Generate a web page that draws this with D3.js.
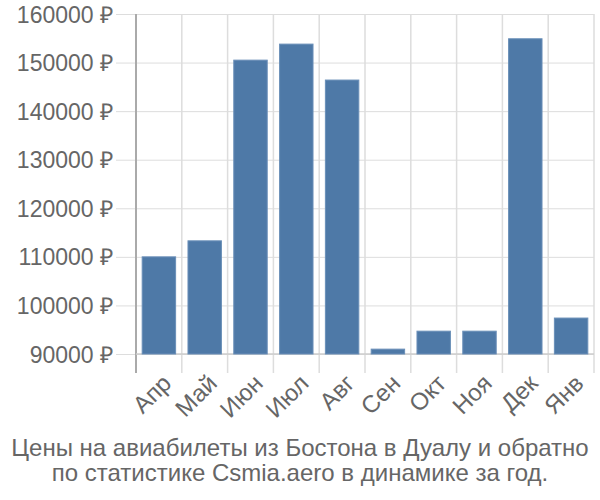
<!DOCTYPE html>
<html><head><meta charset="utf-8">
<script src="https://cdn.jsdelivr.net/npm/d3@7"></script>
<style>body{margin:0;background:#fff}svg{display:block;font-family:"Liberation Sans",Arial,sans-serif}</style>
</head><body><svg id="c" width="600" height="500"></svg>
<script>
const months = ["Апр","Май","Июн","Июл","Авг","Сен","Окт","Ноя","Дек","Янв"];
const prices = [110000,113300,150500,153800,146400,91000,94700,94700,154900,97400];
const yTicks = [90000,100000,110000,120000,130000,140000,150000,160000];
const titleLines = ["Цены на авиабилеты из Бостона в Дуалу и обратно","по статистике Csmia.aero в динамике за год."];

const svg = d3.select("#c");
const L=136,R=594,T=14,B=354;
const x = d3.scaleBand().domain(months).range([L,R]).paddingInner(0.27).paddingOuter(0.135);
const y = d3.scaleLinear().domain([90000,160000]).range([B,T]);
const grid="#dddddd", txt="#666666";

// horizontal grid
const gy = svg.append("g").attr("transform",`translate(${L},0)`)
  .call(d3.axisLeft(y).tickValues(yTicks).tickSize(20).tickSizeOuter(0).tickFormat(d=>d+" ₽").tickPadding(3));
gy.select(".domain").remove();
gy.selectAll(".tick line").attr("stroke",grid).attr("x2",R-L).attr("x1",-20);
gy.selectAll(".tick text").attr("fill",txt).style("font-size","23px").attr("dy","0.35em");

// vertical grid at band boundaries
const bounds = months.map(m=>x(m)-x.step()*x.paddingInner()/2).concat([R]);
bounds[0]=L;
svg.append("g").selectAll("line").data(bounds).join("line")
  .attr("x1",d=>d).attr("x2",d=>d).attr("y1",T).attr("y2",373)
  .attr("stroke",(d,i)=>i===0?"#aaaaaa":grid).attr("stroke-width",(d,i)=>i===0?2:1.5);
svg.append("line").attr("x1",L).attr("x2",R).attr("y1",B).attr("y2",B).attr("stroke","#cccccc").attr("stroke-width",1.5);

// bars
svg.append("g").selectAll("rect").data(prices).join("rect")
  .attr("x",(d,i)=>x(months[i])).attr("width",x.bandwidth())
  .attr("y",d=>y(d)).attr("height",d=>B-y(d))
  .attr("fill","#4e79a7").attr("stroke","#6a8fb8").attr("stroke-width",1);

// x labels
svg.append("g").selectAll("text").data(months).join("text")
  .attr("transform",d=>`translate(${x(d)+x.bandwidth()/2+2},${373}) rotate(-45)`)
  .attr("text-anchor","end").attr("dy","0.7em").attr("fill",txt).style("font-size","24px").text(d=>d);

// title
svg.append("g").selectAll("text").data(titleLines).join("text")
  .attr("x",300).attr("y",(d,i)=>456+i*25).attr("text-anchor","middle")
  .attr("fill",txt).style("font-size","24px").text(d=>d);
</script></body></html>
